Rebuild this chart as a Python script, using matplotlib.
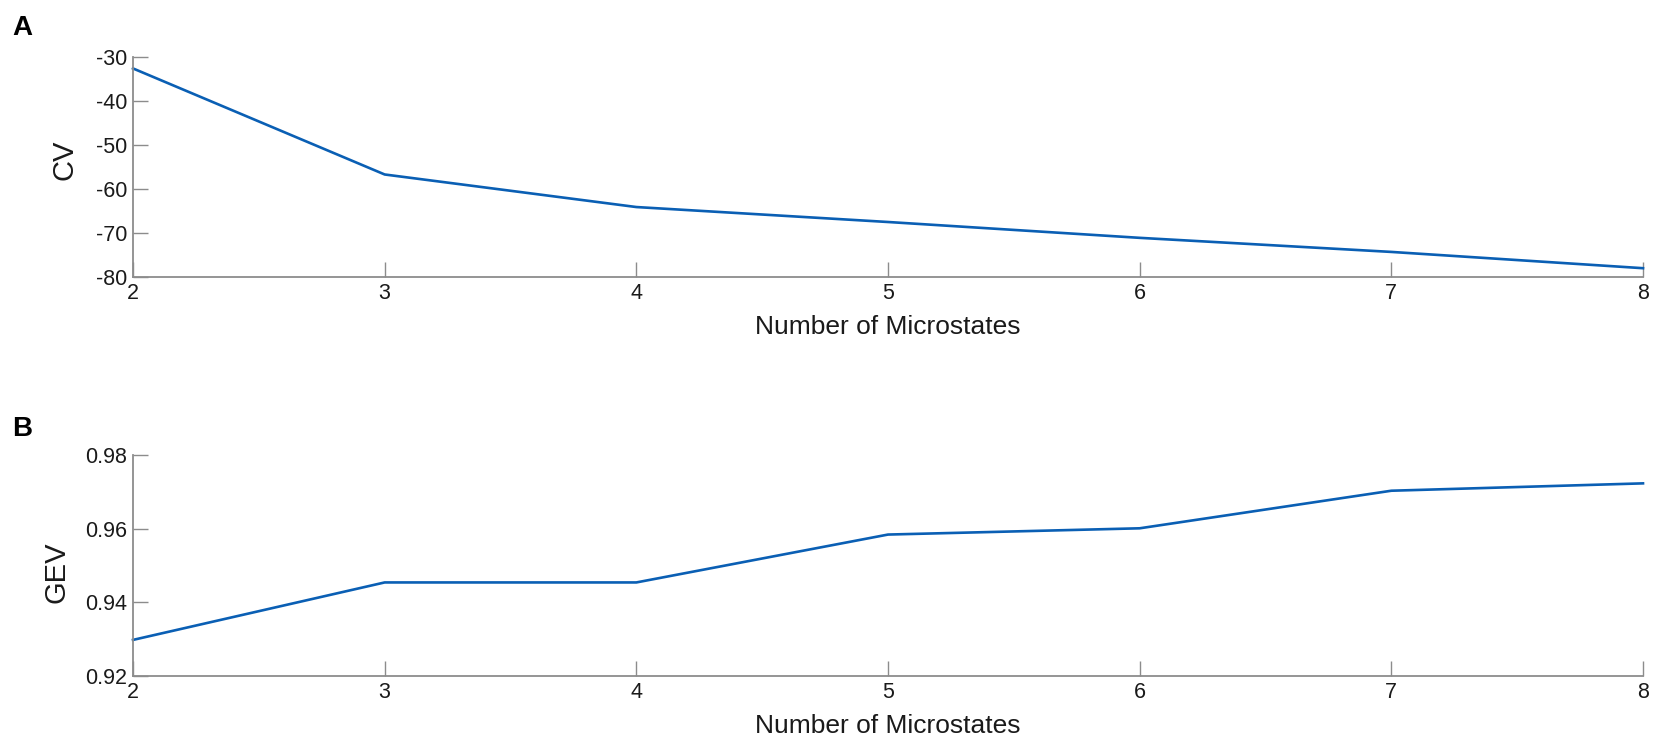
import matplotlib
matplotlib.use("Agg")
import matplotlib.pyplot as plt

plt.rcParams['font.family'] = ['Liberation Sans', 'DejaVu Sans']
plt.rcParams['axes.unicode_minus'] = False

# number of microstates
n_states = [2, 3, 4, 5, 6, 7, 8]
# panel A: cross-validation criterion
cv_values = [-32.6, -56.7, -64.1, -67.5, -71.1, -74.3, -78.0]
# panel B: global explained variance
gev_values = [0.9298, 0.9454, 0.9454, 0.9584, 0.9601, 0.9703, 0.9723]

cv_ticks = [-80, -70, -60, -50, -40, -30]
gev_ticks = [0.92, 0.94, 0.96, 0.98]
gev_ticklabels = ['0.92', '0.94', '0.96', '0.98']

line_color = '#0a5fb4'
axis_color = '#8c8c8c'

fig = plt.figure(figsize=(16.54, 7.42), dpi=100)
W, H = 1654, 742

def make_axes(top_px, bottom_px):
    left, right = 133, 1643
    return fig.add_axes([left / W, 1 - bottom_px / H, (right - left) / W, (bottom_px - top_px) / H])

axA = make_axes(57, 277)
axB = make_axes(455, 676)

def style(ax, ylabel):
    for s in ['top', 'right']:
        ax.spines[s].set_visible(False)
    for s in ['left', 'bottom']:
        ax.spines[s].set_color(axis_color)
        ax.spines[s].set_linewidth(1.3)
    ax.tick_params(direction='in', length=11, width=1.0, color=axis_color,
                   labelsize=15.5, labelcolor='#1a1a1a', pad=4)
    ax.set_xlim(2, 8)
    ax.set_xticks(n_states)
    ax.set_xlabel('Number of Microstates', fontsize=19, color='#1a1a1a')
    ax.set_ylabel(ylabel, fontsize=21, color='#1a1a1a')

axA.plot(n_states, cv_values, color=line_color, linewidth=1.9, clip_on=False)
style(axA, 'CV')
axA.set_ylim(-80, -30)
axA.set_yticks(cv_ticks)
axA.xaxis.set_label_coords(0.5, -50 / 220)
axA.yaxis.set_label_coords(-69 / 1510, 0.532)

axB.plot(n_states, gev_values, color=line_color, linewidth=1.9, clip_on=False)
style(axB, 'GEV')
axB.set_ylim(0.92, 0.98)
axB.set_yticks(gev_ticks)
axB.set_yticklabels(gev_ticklabels)
axB.xaxis.set_label_coords(0.5, -50 / 221)
axB.yaxis.set_label_coords(-76 / 1510, 0.47)

for ax in [axA, axB]:
    ax.xaxis.label.set_verticalalignment('center')
    ax.yaxis.label.set_verticalalignment('center')

fig.text(12 / W, 1 - 28 / H, 'A', fontsize=20, fontweight='bold', va='center', ha='left')
fig.text(12 / W, 1 - 429 / H, 'B', fontsize=20, fontweight='bold', va='center', ha='left')

fig.savefig('out.png', dpi=100)
